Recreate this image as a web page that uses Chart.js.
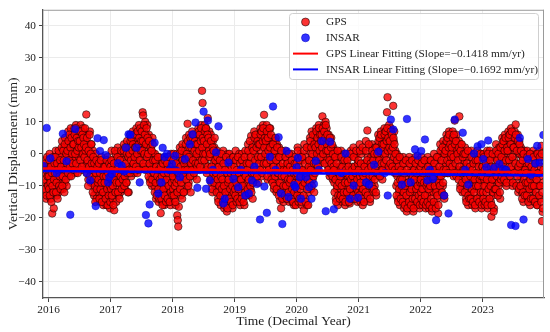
<!DOCTYPE html>
<html><head><meta charset="utf-8">
<script src="https://cdn.jsdelivr.net/npm/chart.js@4.4.0/dist/chart.umd.min.js"></script>
<style>html,body{margin:0;padding:0;background:#fff;}</style>
</head><body>
<canvas id="c" width="550" height="332" style="display:block;width:550px;height:332px"></canvas>
<script>
// ---------- data ----------
const xTicks = [2016, 2017, 2018, 2019, 2020, 2021, 2022, 2023];
const yTicks = [-40, -30, -20, -10, 0, 10, 20, 30, 40];
const gpsStep = 1 / 120; // years between GPS samples in one run
const gps2015 = [-6,-12,-2,-9,-14,-4,-10,-7];
const gps2015b = [-8,-3,-11,-5,-13,-1,-7,-10];
const gps2016 = [
 -5,-11,0,-8,-14,-3,-9,-18.6,-12,-6,-17,-1, -4,-10,1,-7,-13,-2,-8,-12,0,-6,-11,-3,
 -1,-8,4,-5,-11,2,-3,-9,5,-6,0,-10, 3,-4,7,0,-7,5,-2,8,1,-5,6,-1,
 5,-2,8,2,-6,9,0,4,-4,7,3,-1, 6,0,9,3,-5,7,1,8,-3,5,2,4,
 4,12.3,-3,6,0,-8,2,-5,7,-1,-9,3, -2,-9,1,-6,-13,-4,-11,0,-7,-14,-3,-10,
 -5,-12,-2,-9,-15,-7,-1,-13,-4,-10,-16,-8, -6,-13,-3,-10,-16,-8,-1,-12,-5,-15,-9,-17];
const gps2016b = [
 -7,-2,-13,-9,-4,-15,-6,-10,-1,-12,-8,-3, -6,-1,-12,-9,-3,-14,-5,1,-10,-7,-2,-11,
 -4,2,-10,-7,1,-2,-12,3,-5,-8,0,-3, 1,-6,4,-2,6,-4,2,-7,5,0,-3,3,
 3,-5,6,0,8,-3,5,1,-6,4,2,7, 4,-2,7,2,-4,6,0,5,3,-1,8,1,
 2,-6,5,-2,-10,1,-4,6,-7,0,3,-3, -5,-12,-1,-8,-3,-10,-15,-6,-2,-11,-4,-9,
 -8,-3,-14,-6,-11,-2,-9,-15,-5,-12,-7,-4, -9,-4,-14,-7,-2,-11,-16,-6,-13,-3,-10,-15];
const gps2017 = [
 -4,-11,1,-8,-14,-2,-9,-17.6,-6,-12,0,-15, -3,-10,2,-7,-13,-1,-8,-12,0,-5,-11,-4,
 -2,-8,3,-5,-11,1,-4,-9,4,-6,-1,-12, 2,-4,6,-1,-7,4,0,7,-3,5,-6,3,
 4,-2,8,1,-6,6,-1,9,3,-4,7,2, 5,0,13,12,-4,8,2,10,-2,6,3,9,
 3,-4,6,-1,-8,4,-6,1,-10,5,-3,0, -4,-10,0,-7,-14,-2,-9,-12,-5,-15,-1,-8,
 -6,-18.5,-2,-10,-15,-4,-12,-8,-16,-1,-11,-5, -5,-12,-1,-9,-15,-3,-11,-7,-16,0,-13,-6];
const gps2017b = [
 -7,-2,-13,-5,-10,-16,-3,-8,1,-12,-6,-9, -6,-1,-12,-4,-9,-14,-2,-7,1,-11,-5,-8,
 -4,1,-10,-7,2,-3,-9,0,-6,-12,-1,-5, 0,-6,4,-2,5,-5,1,3,-3,6,-1,2,
 2,-4,6,0,7,-5,3,5,-2,8,1,4, 7,1,4,-3,9,0,6,-5,3,8,-1,5,
 0,-7,4,-3,-9,2,-5,1,-8,3,-2,-6, -6,-12,-2,-9,-4,-13,-7,-1,-11,-5,-14,-8,
 -9,-4,-14,-7,-16,-3,-11,-6,-13,-2,-9,-15, -8,-3,-14,-6,-10,-1,-15,-5,-12,-4,-9,-13];
const gps2018 = [
 -4,-11,0,-8,-14,-2,-16,-6,-12,-19.2,-20.7,-22.7, -16.5,-3,2,-8,-13,-1,-10,3,-5,-12,-7,0,
 1,-6,5,-3,-11,9.4,-1,-9,6,-4,3,-12, 4,-3,7,0,-7,5,2,-5,6,-1,3,-8,
 5,-1,8,2,-5,7,0,9,3,19.7,15.9,6, 6,1,9,-3,4,8,-6,2,11.2,5,-1,7,
 3,-5,6,-9,0,-12,4,-3,-7,2,-10,-1, -3,-10,1,-7,-14,-5,-12,0,-9,-16,-2,-11,
 -4,-13,1,-9,-17,-6,-15,-2,-11,-18,-7,0, -5,-12,0,-9,-16,-3,-13,-7,-17,-1,-10,-14];
const gps2018b = [
 -7,-2,-13,-5,-10,-15,-3,-9,0,-12,-6,-8, -6,0,-11,-4,-9,1,-14,-2,-7,-12,-3,-5,
 -2,3,-8,0,-5,4,-10,-1,2,-7,5,-3, 2,-5,5,-2,6,-6,1,4,-3,3,0,-4,
 3,-3,7,1,6,-4,4,8,-2,2,5,0, 4,-2,7,0,8,-5,3,6,-4,5,1,-1,
 0,-8,4,-4,-11,2,-6,1,-9,5,-2,-7, -6,-12,-1,-8,-15,-4,-10,-2,-13,-7,0,-11,
 -8,-15,-3,-10,-16,-5,-12,-1,-14,-6,-17,-9, -8,-14,-2,-11,-6,-15,-4,-10,-16,-1,-12,-6];
const gps2019 = [
 -4,-11,1,-8,-15,-2,-10,-6,-13,0,-9,-16, -5,-12,0,-8,-14,-3,-10,-16,-6,1,-11,-7,
 -2,-9,3,-6,-13,0,-4,-11,5.6,-7,2,-14, 3,-4,7,0,-8,5,-2,6,-6,2,-9,4,
 5,-2,8,1,-7,7,-4,9,3,12.2,-1,6, 6,-1,9,2,-8,7,-4,4,0,8,-6,3,
 2,-6,5,-3,-11,0,-8,4,-1,-12,3,-5, -3,-10,2,-6,-14.5,-1,-17,-8,-12,0,-5,-15,
 -4,-11,1,-7,-14,-2,-9,-13,0,-6,-15,-10, -5,-12,0,-8,-15,-3,-10,-16,-1,-7,-13,-4];
const gps2019b = [
 -7,-13,-2,-9,-5,-14,-1,-11,-6,-15,-3,-8, -8,-14,-2,-10,-4,-15,-6,-1,-12,-7,-13,-3,
 -5,-11,1,-8,-3,4,-10,-1,-12,-6,2,-9, 1,-6,5,-2,6,-5,2,-7,4,-1,3,-3,
 3,-5,6,-1,7,-6,4,8,-3,2,5,0, 4,-3,7,-7,5,1,-5,8,2,-2,6,-8,
 -1,-9,3,-4,-10,1,-7,5,-2,-11,2,-6, -6,-13,-1,-9,-4,-12,1,-7,-14,-3,-10,-5,
 -7,-13,-1,-10,-5,-14,-3,-8,-12,0,-9,-4, -8,-14,-2,-11,-5,-15,-6,-12,-3,-9,-16,-7];
const gps2020 = [
 -3,-11,2,-7,-15,-1,-9,-13,0,-5,-16,-8, -2,-10,-17.6,3,-7,-14,-1,-9,-16,2,-5,-12,
 1,-6,5,-3,-11,7,-1,-8,3,-4,-12,6, 4,-2,8,1,-5,6,3,9,0,7,-3,5,
 5,1,11.7,7,-2,9,3,6,10,-1,8,4, 3,-4,6,0,-7,4,-2,5,-6,1,-8,2,
 -2,-9,1,-5,-14,-1,-11,-7,-16,0,-4,-12, -4,-11,1,-8,-15,-2,-10,-6,-13,0,-16,-7,
 -3,-10,0,-7,-14,-1,-12,-15.5,-5,1,-9,-13, -4,-11,2,-7,-14,-1,-9,-12,0,-6,-15,-3];
const gps2020b = [
 -6,-13,1,-9,-4,-14,-2,-11,-7,-15,-1,-10, -5,-13,1,-9,-3,-15,-6,2,-11,-8,-16,-4,
 -2,-9,4,-5,2,-10,0,6,-7,-3,3,-6, 2,-3,7,0,5,-4,3,8,1,6,-1,4,
 6,2,8,0,4,7,-3,5,9,1,3,6, 1,-5,4,-2,5,-6,2,-3,3,-7,0,-4,
 -5,-12,-1,-8,-15,-3,-10,1,-13,-6,-9,-14, -7,-13,-1,-10,-4,-14,-6,-12,-2,-9,-15,-5,
 -6,-12,-2,-9,-4,-15,-7,-11,0,-8,-14,-5, -7,-13,-1,-9,-4,-14,-6,1,-11,-8,-3,-12];
const gps2021 = [
 -2,-10,3,-7,-15,0,-12,-5,-16,1,-8,-3, -3,-10,4,-6,-14,7.3,-1,-12,2,-8,-15,-4,
 -1,-8,3,-5,-12,0,-3,-10,2,-6,-13,-2, 2,-4,6,-1,-7,4,0,7,-5,3,-8,5,
 5,-1,8,2,-4,7,1,13,17.7,6,-5,9, 6,0,8,3,-5,5,-2,15,4,7,-6,1,
 -3,-10,0,-7,-14,-1,-12,-5,-16,-8,-2,-11, -5,-13,-1,-9,-17,-3,-11,-7,-15,-18,-2,-10,
 -6,-14,-1,-10,-17,-4,-12,-8,-16,-2,-18,-9, -5,-12,-1,-9,-16,-3,-11,-7,-14,-2,-17,-8];
const gps2021b = [
 -5,-13,1,-9,-3,-14,-6,2,-11,-7,-15,-4, -6,-12,1,-9,-2,-13,-5,3,-10,-7,-14,-3,
 -4,-10,1,-7,-2,-11,0,-8,-5,-12,2,-6, 0,-6,4,-2,5,-7,1,6,-3,3,-5,2,
 3,-3,6,0,7,-2,4,8,1,5,-4,2, 4,-3,7,1,6,-4,2,5,-1,3,-5,0,
 -6,-13,-2,-9,-15,-4,-11,-1,-8,-14,-5,-10, -8,-15,-3,-12,-6,-16,-10,-2,-13,-5,-17,-9,
 -9,-15,-3,-12,-6,-16,-11,-2,-14,-7,-17,-5, -8,-14,-3,-11,-6,-15,-10,-2,-13,-5,-16,-9];
const gps2022 = [
 -4,-12,-1,-9,-16,-3,-11,-7,-14,-2,-17,-6, -5,-13,-1,-10,-17,-3,-12,-8,-15,-2,-18,-7,
 -4,-12,0,-9,-16,-2,-11,-6,-14,-1,-18.6,-8, -1,-8,3,-5,-12,1,-3,-10,4,-6,-14,0,
 3,-3,6,0,-6,5,-1,7,2,-4,4,1, 4,-2,7,1,-7,5,10.4,2,-5,6,0,3,
 2,-5,4,11.7,-1,-10,3,-7,0,-12,1,-3, -2,-9,2,-6,-14,-1,-11,-4,-16,0,-8,-13,
 -4,-12,1,-8,-16,-2,-10,-6,-14,0,-17,-9, -3,-11,1,-7,-15,-1,-9,-13,-5,0,-17,-8];
const gps2022b = [
 -8,-14,-3,-11,-6,-15,-9,-2,-13,-5,-16,-10, -9,-15,-4,-11,-6,-16,-10,-2,-14,-7,-17,-5,
 -7,-15,-3,-10,-5,-17,-12,-1,-13,-6,-16,-9, -4,-10,1,-7,-2,-12,2,-9,-5,-13,0,-6,
 1,-5,4,-2,5,-6,2,6,-3,3,-1,0, 2,-4,5,-1,6,-6,3,-3,4,-7,1,0,
 -2,-8,2,-4,-11,1,-6,3,-9,-1,-5,0, -5,-12,0,-8,-15,-3,-10,1,-13,-6,-14,-4,
 -7,-14,-1,-11,-5,-15,-3,-12,-8,-16,-2,-10, -6,-14,-2,-10,-4,-15,-8,0,-12,-7,-16,-4];
const gps2023 = [
 -4,-12,0,-8,-16,-2,-10,-6,-14,1,-17,-9, -3,-11,1,-7,-15,-19.6,-1,-9,-13,-5,-17,-8,
 -1,-8,3,-5,-12,1,-3,-10,2,-6,-14,0, 2,-4,5,-1,-9,4,0,6,-6,3,-10,1,
 4,-3,7,1,-8,6,-1,8,-5,3,-10,5, 5,-2,7,1,9.2,-9,3,-5,6,-12,0,4,
 0,-7,2,-4,-12,-1,-9,-15,-5,1,-11,-3, -3,-10,1,-6,-14,-1,-12,-8,-16,0,-5,-11,
 -4,-11,1,-7,-15,-2,-9,-13,0,-6,-16,-10, -3,-10,1,-7,-14,-1,2.5,-21,-18.1,-9];
const gps2023b = [
 -7,-14,-1,-10,-5,-15,-3,-12,-8,-16,0,-11, -6,-14,-2,-10,-4,-16,-8,0,-12,-18,-5,-11,
 -4,-11,1,-7,-2,-13,0,-9,-5,-12,2,-8, -1,-7,3,-3,4,-8,1,-5,5,-2,-9,2,
 1,-6,5,-2,6,-7,3,-4,7,-1,-9,2, 2,-6,5,-3,6,-10,1,-7,4,-4,-11,3,
 -3,-10,1,-6,-14,-2,-12,0,-8,-13,-5,-9, -6,-13,-1,-9,-15,-3,-11,0,-8,-14,-4,-10,
 -7,-14,-1,-10,-5,-15,-3,-12,-8,-16,0,-6, -6,-13,-1,-10,-4,-15,0,-12,-17,-5];
// [start year, values] – "b" runs are offset by half a sample step
const gpsRuns = [
  [2015.93, gps2015], [2015.93 + gpsStep / 2, gps2015b],
  [2016, gps2016], [2016 + gpsStep / 2, gps2016b],
  [2017, gps2017], [2017 + gpsStep / 2, gps2017b],
  [2018, gps2018], [2018 + gpsStep / 2, gps2018b],
  [2019, gps2019], [2019 + gpsStep / 2, gps2019b],
  [2020, gps2020], [2020 + gpsStep / 2, gps2020b],
  [2021, gps2021], [2021 + gpsStep / 2, gps2021b],
  [2022, gps2022], [2022 + gpsStep / 2, gps2022b],
  [2023, gps2023], [2023 + gpsStep / 2, gps2023b]];

// INSAR observations [decimal year, mm]
const insarData = [
 [2015.91,-3.7],[2015.97,8.1],[2016.03,-1.4],[2016.13,-6],[2016.23,6.3],[2016.29,-2.3],[2016.35,-19],[2016.43,7.7],
 [2016.62,-6],[2016.67,-8.3],[2016.76,-16.3],[2016.79,4.9],[2016.83,0.9],[2016.89,4.3],[2016.92,-0.4],[2016.96,-8.9],
 [2016.98,-7.3],[2017.02,-6.3],[2017.12,-2.9],[2017.18,-3.7],[2017.22,-5.5],[2017.25,1.9],[2017.29,6.1],[2017.32,6],
 [2017.42,1.9],[2017.47,-8.9],[2017.57,-19.1],[2017.61,-21.7],[2017.63,-15.8],[2017.71,3.5],[2017.77,-12.4],[2017.82,-8.9],
 [2017.84,1.9],[2017.87,-1],[2017.91,0],[2017.95,-5],[2017.99,-3.2],[2018.04,-0.6],[2018.06,-5.2],[2018.12,-7.3],
 [2018.2,-1.6],[2018.28,3],[2018.32,6.1],[2018.37,9.8],[2018.4,-10.6],[2018.5,13.2],[2018.54,-10.9],[2018.57,10.4],
 [2018.6,-8.3],[2018.65,-5],[2018.7,0.5],[2018.74,8.6],[2018.82,-15.5],[2018.84,-14],[2018.9,-2.7],[2018.98,-7.8],
 [2019.06,-10.4],[2019.1,-5],[2019.17,-13],[2019.23,-12.4],[2019.28,-8.3],[2019.32,-4],[2019.36,-9.4],[2019.41,-20.5],
 [2019.48,-10.2],[2019.52,-18.4],[2019.57,-0.9],[2019.62,14.8],[2019.66,-5],[2019.71,5.2],[2019.75,-12.4],[2019.77,-21.9],
 [2019.84,0.9],[2019.87,-13.5],[2019.96,-9.7],[2019.98,-10.4],[2020.0,-4.2],[2020.02,-1.3],[2020.05,-7.3],[2020.07,-14],
 [2020.15,-7.3],[2020.2,-10.4],[2020.24,-14],[2020.28,-9.4],[2020.31,-2.2],[2020.36,-5],[2020.41,4],[2020.47,-17.9],
 [2020.54,3.8],[2020.6,-17.3],[2020.72,-6],[2020.79,0.1],[2020.86,-14],[2020.92,-9.9],[2020.99,-13.7],[2021.12,-8.9],
 [2021.17,-9.6],[2021.25,-3.4],[2021.32,0.7],[2021.42,-6],[2021.47,-13],[2021.52,10.7],[2021.56,7.6],[2021.7,-9.6],
 [2021.78,10.9],[2021.84,-8.9],[2021.91,1.4],[2021.95,-0.6],[2022.01,0.9],[2022.07,4.5],[2022.11,-8.3],[2022.15,-5],
 [2022.2,-7.8],[2022.25,-20.7],[2022.38,-13],[2022.45,-18.6],[2022.55,10.7],[2022.68,6.6],[2022.72,-5],[2022.77,-9.6],
 [2022.86,0.1],[2022.92,2.4],[2022.98,3],[2023.01,-1.6],[2023.06,-4.2],[2023.09,4.2],[2023.18,-4.4],[2023.27,-3.2],
 [2023.33,-4.7],[2023.38,-5],[2023.46,-22.2],[2023.53,-22.5],[2023.6,5],[2023.66,-20.5],[2023.73,-1.6],[2023.78,-6.5],
 [2023.85,-3],[2023.88,2.5],[2023.92,-2.7],[2023.98,5.9]];

const gpsSlope = -0.1418, insarSlope = -0.1692;   // mm/yr
const gpsFitAt2016 = -4.6, insarFitAt2016 = -5.35; // mm
const fitRange = [2015.91, 2023.99];
const xRange = [2015.91, 2023.99];
const yRange = [-45, 45];

// ---------- build ----------
const gpsPoints = [];
gpsRuns.forEach(([t0, vals]) => vals.forEach((v, j) => gpsPoints.push({x: t0 + j * gpsStep, y: v})));
const insarPoints = insarData.map(([t, v]) => ({x: t, y: v}));
const fitLine = (a, s) => fitRange.map(t => ({x: t, y: a + s * (t - 2016)}));

const SERIF = "'Liberation Serif','Times New Roman',serif";
Chart.defaults.font.family = SERIF;
Chart.defaults.color = '#222';
const fmt = v => (v < 0 ? '\u2212' + Math.abs(v) : String(v));

const GPS_FILL = 'rgba(250,0,0,0.8)', GPS_EDGE = 'rgba(0,0,0,0.75)';
const INSAR_FILL = 'rgba(0,0,255,0.8)', INSAR_EDGE = 'rgba(0,0,200,0.8)';

const legendItems = [
  {type: 'pt', fill: GPS_FILL, stroke: GPS_EDGE, text: 'GPS'},
  {type: 'pt', fill: INSAR_FILL, stroke: INSAR_EDGE, text: 'INSAR'},
  {type: 'ln', color: '#ff0000', text: 'GPS Linear Fitting (Slope=\u2212' + Math.abs(gpsSlope).toFixed(4) + ' mm/yr)'},
  {type: 'ln', color: '#0000ff', text: 'INSAR Linear Fitting (Slope=\u2212' + Math.abs(insarSlope).toFixed(4) + ' mm/yr)'}
];

const framePlugin = {
  id: 'frame',
  afterDraw(chart) {
    const {ctx, chartArea: a} = chart;
    ctx.save();
    ctx.strokeStyle = '#9a9a9a'; ctx.lineWidth = 1;
    ctx.beginPath();
    ctx.moveTo(a.left, a.top + 0.5); ctx.lineTo(a.right, a.top + 0.5);
    ctx.moveTo(a.right - 0.5, a.top); ctx.lineTo(a.right - 0.5, a.bottom);
    ctx.stroke();
    // legend
    const bx = 289.5, by = 13.5, bw = 249, bh = 66;
    ctx.beginPath();
    ctx.roundRect(bx, by, bw, bh, 3);
    ctx.fillStyle = 'rgba(255,255,255,0.85)'; ctx.fill();
    ctx.strokeStyle = '#cfcfcf'; ctx.lineWidth = 1; ctx.stroke();
    ctx.font = '11.3px ' + SERIF;
    ctx.textBaseline = 'middle'; ctx.textAlign = 'left';
    legendItems.forEach((it, i) => {
      const y = 22 + i * 15.8;
      if (it.type === 'pt') {
        ctx.beginPath(); ctx.arc(305.5, y, 4, 0, Math.PI * 2);
        ctx.fillStyle = it.fill; ctx.fill();
        ctx.strokeStyle = it.stroke; ctx.lineWidth = 0.7; ctx.stroke();
      } else {
        ctx.beginPath(); ctx.moveTo(293, y); ctx.lineTo(318, y);
        ctx.strokeStyle = it.color; ctx.lineWidth = 2; ctx.stroke();
      }
      ctx.fillStyle = '#222';
      ctx.fillText(it.text, 326, y + 0.5);
    });
    ctx.restore();
  }
};

new Chart(document.getElementById('c'), {
  type: 'scatter',
  data: {
    datasets: [
      {label: 'GPS', data: gpsPoints, order: 4, pointRadius: 3.8, pointBorderWidth: 0.7,
       backgroundColor: GPS_FILL, borderColor: GPS_EDGE},
      {label: 'INSAR', data: insarPoints, order: 3, pointRadius: 3.8, pointBorderWidth: 0.6,
       backgroundColor: INSAR_FILL, borderColor: INSAR_EDGE},
      {type: 'line', label: 'GPS Linear Fitting', data: fitLine(gpsFitAt2016, gpsSlope), order: 2,
       borderColor: '#ff0000', borderWidth: 2.6, pointRadius: 0, fill: false},
      {type: 'line', label: 'INSAR Linear Fitting', data: fitLine(insarFitAt2016, insarSlope), order: 1,
       borderColor: '#0000ff', borderWidth: 2.6, pointRadius: 0, fill: false}
    ]
  },
  options: {
    responsive: false, animation: false,
    layout: {padding: {top: 7, right: 6, left: 0, bottom: 0}},
    plugins: {legend: {display: false}, tooltip: {enabled: false}},
    scales: {
      x: {
        type: 'linear', min: xRange[0], max: xRange[1],
        afterBuildTicks: s => { s.ticks = xTicks.map(v => ({value: v})); },
        afterFit: s => { s.height = 34; },
        ticks: {callback: v => String(v), font: {size: 11.3}, color: '#222', padding: 1, maxRotation: 0},
        grid: {color: '#ebebeb', lineWidth: 1, tickColor: '#444', tickLength: 4},
        border: {display: true, color: '#555', width: 1.3},
        title: {display: true, text: 'Time (Decimal Year)', font: {size: 13.5}, color: '#222', padding: {top: 0, bottom: 2}}
      },
      y: {
        type: 'linear', min: yRange[0], max: yRange[1],
        afterBuildTicks: s => { s.ticks = yTicks.map(v => ({value: v})); },
        afterFit: s => { s.width = 43; },
        ticks: {callback: v => fmt(v), font: {size: 11.3}, color: '#222', padding: 3},
        grid: {color: '#ebebeb', lineWidth: 1, tickColor: '#444', tickLength: 4},
        border: {display: true, color: '#555', width: 1.3},
        title: {display: true, text: 'Vertical Displacement (mm)', font: {size: 13.5}, color: '#222', padding: {top: 5, bottom: 0}}
      }
    }
  },
  plugins: [framePlugin]
});
</script>
</body></html>
